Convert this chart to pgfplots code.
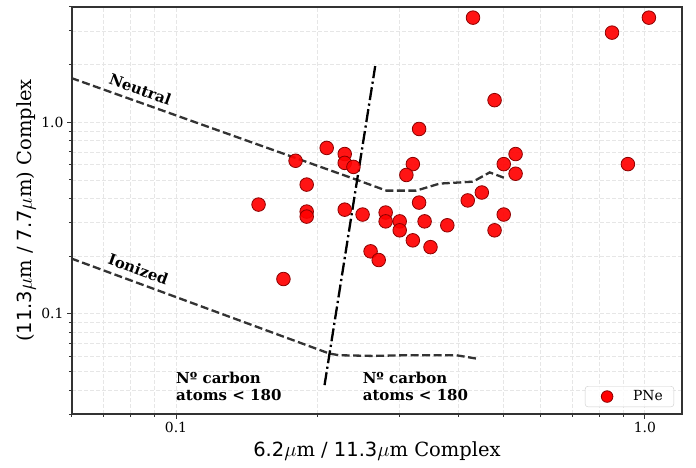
\documentclass[border=0pt]{standalone}
\usepackage{pgfplots}
\pgfplotsset{compat=1.18}
\usepackage{fontspec}
\setmainfont{DejaVu Serif}
\newfontfamily\dvs{DejaVu Sans}
\definecolor{ptred}{HTML}{FF0000}
\definecolor{ptedge}{HTML}{8B0000}
\definecolor{lgrid}{HTML}{E6E6E6}
\definecolor{dgrey}{HTML}{333333}
\definecolor{lgbox}{HTML}{CCCCCC}

\begin{document}
\begin{tikzpicture}
\useasboundingbox (-72pt,-54pt) rectangle (624pt,414pt);
\begin{axis}[
    at={(0,0)}, anchor=south west,
    scale only axis, width=610pt, height=407pt,
    xmode=log, ymode=log,
    xmin=0.06, xmax=1.2, ymin=0.03, ymax=4,
    xtick={0.1,1}, xticklabels={0.1,1.0},
    minor xtick={0.06,0.07,0.08,0.09,0.2,0.3,0.4,0.5,0.6,0.7,0.8,0.9},
    ytick={0.1,1}, yticklabels={0.1,1.0},
    minor ytick={0.03,0.04,0.05,0.06,0.07,0.08,0.09,0.2,0.3,0.4,0.5,0.6,0.7,0.8,0.9,2,3,4},
    tick align=outside, tick pos=left,
    major tick length=5pt, minor tick length=3pt,
    every tick/.style={dgrey, line width=1pt},
    grid=both,
    major grid style={lgrid, line width=0.8pt, dash pattern=on 4pt off 2pt},
    minor grid style={lgrid, line width=0.8pt, dash pattern=on 4pt off 2pt},
    axis line style={dgrey, line width=1.3pt},
    tick label style={font=\fontsize{13.9}{16}\selectfont},
    xlabel={{\dvs 6.2}$\mu$m / {\dvs 11.3}$\mu$m Complex},
    ylabel={({\dvs 11.3}$\mu$m / {\dvs 7.7}$\mu$m) Complex},
    label style={font=\fontsize{19.5}{22}\selectfont},
    xlabel style={at={(axis description cs:0.5,-0.1032)}, anchor=base},
    ylabel style={at={(axis description cs:-0.0656,0.5)}, anchor=base},
    legend style={at={(rel axis cs:0.987,0.017)}, anchor=south east,
        draw=lgbox, rounded corners=3pt, fill=white, fill opacity=0.8,
        text opacity=1, inner xsep=9pt, inner ysep=2.5pt,
        font=\fontsize{13.9}{16}\selectfont},
]
% Neutral
\addplot[forget plot, dgrey, line width=2.3pt, dash pattern=on 8pt off 3.5pt] coordinates {
    (0.0598,1.703) (0.2424,0.502) (0.2809,0.440) (0.3254,0.440)
    (0.3650,0.4786) (0.4300,0.490) (0.4667,0.5476) (0.5067,0.508)
};
% Ionized
\addplot[forget plot, dgrey, line width=2.3pt, dash pattern=on 8pt off 3.5pt] coordinates {
    (0.0598,0.1945) (0.2126,0.0620) (0.2232,0.0608) (0.2626,0.0603)
    (0.3098,0.0608) (0.3962,0.0608) (0.4372,0.0584)
};
% size boundary
\addplot[forget plot, black, line width=2.3pt, dash pattern=on 13pt off 3.5pt on 2.2pt off 3.5pt] coordinates {
    (0.2074,0.04246) (0.2660,1.966)
};
\addplot[only marks, mark=*, mark size=6.8pt,
    mark options={fill=ptred, draw=ptedge, line width=0.8pt, fill opacity=0.92},
    legend image code/.code={
        \path[draw=none, fill=none] (-13pt,-5pt) rectangle (24pt,5pt);
        \node[circle, fill=ptred, draw=ptedge, line width=0.8pt, fill opacity=1,
              draw opacity=1, minimum size=11.6pt, inner sep=0pt] at (0pt,0pt) {};
    }] coordinates {
    (0.150,0.372) (0.1695,0.152) (0.1799,0.630) (0.190,0.473)
    (0.190,0.342) (0.190,0.322) (0.2096,0.735) (0.229,0.683)
    (0.229,0.614) (0.239,0.585) (0.229,0.350) (0.250,0.330)
    (0.280,0.338) (0.280,0.304) (0.260,0.212) (0.2706,0.191)
    (0.300,0.304) (0.300,0.273) (0.320,0.242) (0.320,0.605)
    (0.310,0.531) (0.330,0.923) (0.330,0.381) (0.339,0.304)
    (0.349,0.223) (0.379,0.290) (0.430,3.52) (0.419,0.391)
    (0.449,0.430) (0.478,1.305) (0.478,0.273) (0.500,0.605)
    (0.500,0.330) (0.530,0.683) (0.530,0.539) (0.851,2.94)
    (1.02,3.52) (0.920,0.605)
};
\addlegendentry{PNe}
\node[font=\fontsize{15}{17.5}\selectfont\bfseries, rotate=-20] at (axis cs:0.0839,1.489) {Neutral};
\node[font=\fontsize{15}{17.5}\selectfont\bfseries, rotate=-20] at (axis cs:0.0831,0.1713) {Ionized};
\node[font=\fontsize{15}{17.5}\selectfont\bfseries, anchor=west, align=left, inner sep=0pt] at (axis cs:0.1,0.0418) {Nº carbon\\atoms < 180};
\node[font=\fontsize{15}{17.5}\selectfont\bfseries, anchor=west, align=left, inner sep=0pt] at (axis cs:0.25,0.0418) {Nº carbon\\atoms < 180};
\end{axis}
\end{tikzpicture}
\end{document}
